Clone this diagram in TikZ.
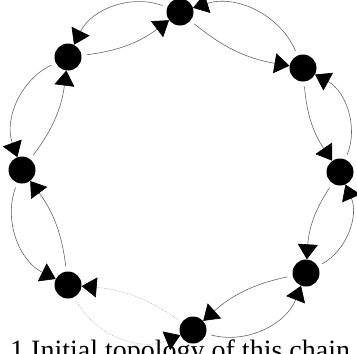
\documentclass[tikz,border=0pt]{standalone}
\usepackage{fontspec}
\setmainfont{Liberation Serif}
\usetikzlibrary{arrows.meta}
\definecolor{linkc}{HTML}{666666}
\definecolor{weakc}{HTML}{A8A8A8}
\tikzset{
  peer/.style={circle, fill=black, minimum size=27pt, inner sep=0pt},
  link/.style={-{Triangle[length=15pt, width=20pt, black]}, linkc,
               line width=0.6pt, shorten <=5pt},
  outerlink/.style={link, bend right=42},
  innerlink/.style={link, bend right=15},
  weak/.style={weakc, densely dotted},
}

\begin{document}
\begin{tikzpicture}[x=1pt, y=1pt]
  \useasboundingbox (0,0) rectangle (357,-354);
  \clip (0,0) rectangle (357,-354);
  % ring of peers, counter-clockwise from the top
  \node[peer] (p0) at (180,-12) {};
  \node[peer] (p1) at (68,-57) {};
  \node[peer] (p2) at (22,-170) {};
  \node[peer] (p3) at (68,-285) {};
  \node[peer] (p4) at (193,-330) {};
  \node[peer] (p5) at (306,-273) {};
  \node[peer] (p6) at (340,-172) {};
  \node[peer] (p7) at (303,-68) {};
  \foreach \a/\b in {p0/p1, p1/p2, p2/p3, p4/p5, p5/p6, p6/p7, p7/p0} {
    \draw[outerlink] (\a) to (\b);
    \draw[innerlink] (\b) to (\a);
  }
  % the broken link
  \draw[outerlink, weak] (p3) to (p4);
  \draw[innerlink, weak] (p4) to (p3);
  \node[anchor=base west, inner sep=0pt, font=\fontsize{28}{32}\selectfont]
    (cap) at (10,-359) {1 Initial topology of this chain};
\end{tikzpicture}
\end{document}
